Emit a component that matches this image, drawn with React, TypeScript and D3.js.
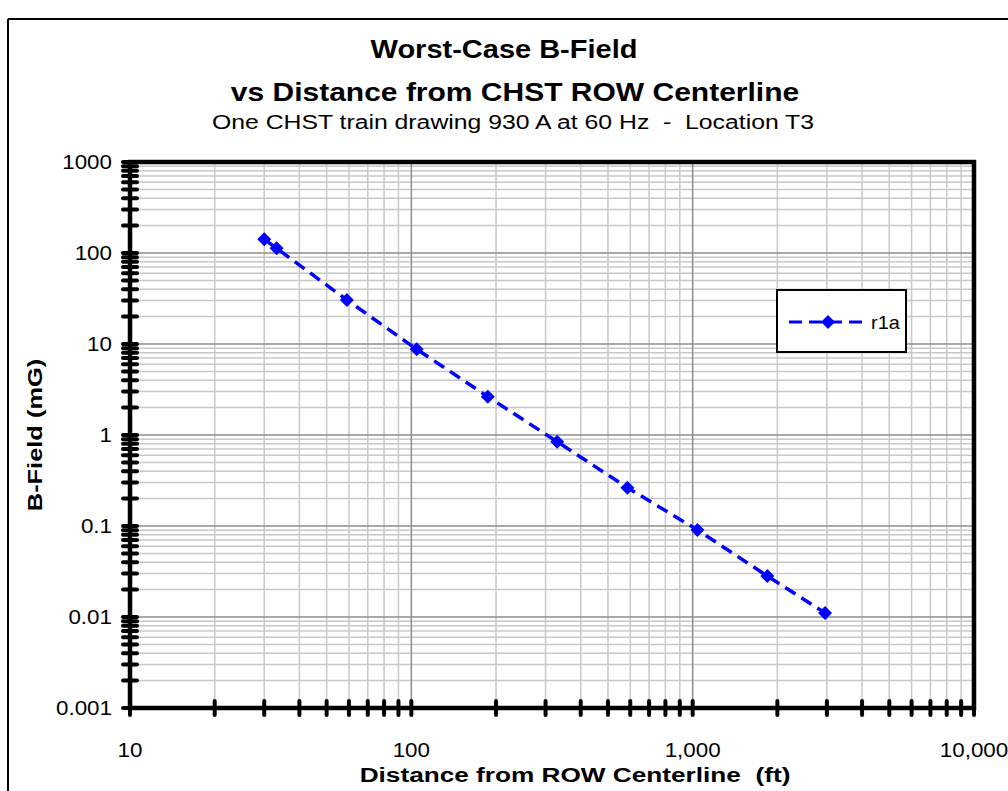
import React from "react";
import * as d3 from "d3";

const distances = [30, 33.2, 59, 104.5, 187, 330, 586, 1040, 1843, 2955];
const bField = [142, 112.6, 30.5, 8.75, 2.64, 0.843, 0.264, 0.0904, 0.0282, 0.0111];
const seriesName = "r1a";
const yTickValues = [1000, 100, 10, 1, 0.1, 0.01, 0.001];
const yTickLabels = ["1000", "100", "10", "1", "0.1", "0.01", "0.001"];
const xTickValues = [10, 100, 1000, 10000];
const xTickLabels = ["10", "100", "1,000", "10,000"];
const titleLines = ["Worst-Case B-Field", "vs Distance from CHST ROW Centerline"];
const subtitle = "One CHST train drawing 930 A at 60 Hz  -  Location T3";
const xTitle = "Distance from ROW Centerline  (ft)";
const yTitle = "B-Field (mG)";

const W = 1008;
const H = 791;
const left = 130, right = 974, top = 162, bottom = 708;
const FONT = "'Liberation Sans', Arial, sans-serif";

function minorValues(lo: number, hi: number) {
  const out: { v: number; major: boolean }[] = [];
  for (let e = Math.log10(lo); e < Math.log10(hi); e++) {
    const base = Math.pow(10, e);
    for (let m = 1; m <= 9; m++) out.push({ v: m * base, major: m === 1 });
  }
  out.push({ v: hi, major: true });
  return out;
}

function SText(props: {
  x: number;
  y: number;
  sx?: number;
  rotate?: number;
  size: number;
  bold?: boolean;
  anchor?: string;
  dy?: string;
  children: React.ReactNode;
}) {
  const { x, y, sx = 1, rotate = 0, size, bold, anchor = "start", dy, children } = props;
  return (
    <text
      transform={`translate(${x},${y}) rotate(${rotate}) scale(${sx},1)`}
      fontSize={size}
      fontWeight={bold ? "bold" : "normal"}
      textAnchor={anchor}
      dy={dy}
      style={{ whiteSpace: "pre" }}
    >
      {children}
    </text>
  );
}

export default function App() {
  const x = d3.scaleLog().domain([10, 10000]).range([left, right]);
  const y = d3.scaleLog().domain([0.001, 1000]).range([bottom, top]);
  const xs = minorValues(10, 10000);
  const ys = minorValues(0.001, 1000);
  const line = d3
    .line<number>()
    .x((_, i) => x(distances[i]))
    .y((d) => y(d));
  const diamond = (cx: number, cy: number, r: number) =>
    `M${cx},${cy - r}L${cx + r},${cy}L${cx},${cy + r}L${cx - r},${cy}Z`;

  return (
    <svg
      width={W}
      height={H}
      style={{ position: "absolute", left: 0, top: 0, background: "#fff" }}
      fontFamily={FONT}
    >
      <rect x={0} y={0} width={W} height={H} fill="#fff" />
      {/* outer chart frame */}
      <line x1={8} y1={19} x2={W} y2={19} stroke="#000" strokeWidth={2} />
      <line x1={8} y1={19} x2={8} y2={H} stroke="#000" strokeWidth={2} />

      {/* titles */}
      <SText x={504} y={58} size={25} bold anchor="middle" sx={1.16}>
        {titleLines[0]}
      </SText>
      <SText x={515} y={101} size={25} bold anchor="middle" sx={1.2}>
        {titleLines[1]}
      </SText>
      <SText x={513} y={129} size={21} anchor="middle" sx={1.18}>
        {subtitle}
      </SText>

      {/* grid minor */}
      {ys.filter((t) => !t.major).map((t, i) => (
        <line key={"ym" + i} x1={left} x2={right} y1={y(t.v)} y2={y(t.v)} stroke="#c8c8c8" strokeWidth={1.5} />
      ))}
      {xs.filter((t) => !t.major).map((t, i) => (
        <line key={"xm" + i} y1={top} y2={bottom} x1={x(t.v)} x2={x(t.v)} stroke="#c8c8c8" strokeWidth={1.5} />
      ))}
      {ys.filter((t) => t.major).map((t, i) => (
        <line key={"yM" + i} x1={left} x2={right} y1={y(t.v)} y2={y(t.v)} stroke="#8c8c8c" strokeWidth={1.5} />
      ))}
      {xs.filter((t) => t.major).map((t, i) => (
        <line key={"xM" + i} y1={top} y2={bottom} x1={x(t.v)} x2={x(t.v)} stroke="#8c8c8c" strokeWidth={1.5} />
      ))}

      {/* plot frame */}
      <rect x={left} y={top} width={right - left} height={bottom - top} fill="none" stroke="#000" strokeWidth={4.5} />

      {/* axis ticks */}
      {ys.map((t, i) => (
        <line key={"yt" + i} x1={left - 7} x2={left + 7} y1={y(t.v)} y2={y(t.v)} stroke="#000" strokeWidth={4} strokeLinecap="round" />
      ))}
      {xs.map((t, i) => (
        <line key={"xt" + i} y1={bottom - 7} y2={bottom + 7} x1={x(t.v)} x2={x(t.v)} stroke="#000" strokeWidth={4} strokeLinecap="round" />
      ))}

      {/* tick labels */}
      {yTickValues.map((v, i) => (
        <SText key={"yl" + i} x={112} y={y(v)} dy="0.36em" anchor="end" size={20} sx={1.12}>
          {yTickLabels[i]}
        </SText>
      ))}
      {xTickValues.map((v, i) => (
        <SText key={"xl" + i} x={x(v)} y={750} dy="0.36em" anchor="middle" size={20} sx={1.12}>
          {xTickLabels[i]}
        </SText>
      ))}

      {/* axis titles */}
      <SText x={575} y={782} anchor="middle" size={20} bold sx={1.31}>
        {xTitle}
      </SText>
      <SText x={42} y={(top + bottom) / 2} rotate={-90} anchor="middle" size={20} bold sx={1.27}>
        {yTitle}
      </SText>

      {/* series */}
      <path d={line(bField) || ""} fill="none" stroke="#0000ff" strokeWidth={3.5} strokeDasharray="12,7" />
      {bField.map((v, i) => (
        <path key={"p" + i} d={diamond(x(distances[i]), y(v), 7)} fill="#0000ff" />
      ))}

      {/* legend */}
      <rect x={777} y={290} width={129} height={62} fill="#fff" stroke="#000" strokeWidth={2} />
      <line x1={789} x2={866} y1={322} y2={322} stroke="#0000ff" strokeWidth={3} strokeDasharray="13,7" />
      <path d={diamond(828, 322, 7)} fill="#0000ff" />
      <SText x={871} y={322} dy="0.36em" size={19} sx={1.05}>
        {seriesName}
      </SText>
    </svg>
  );
}
